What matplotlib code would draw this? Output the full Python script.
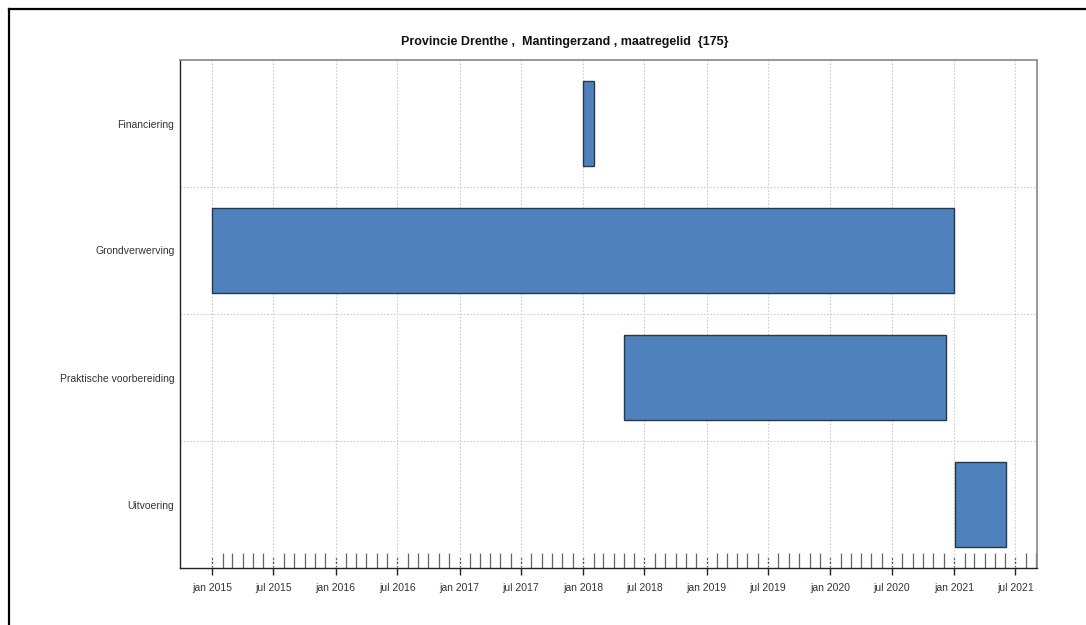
import matplotlib
matplotlib.use("Agg")
import matplotlib.pyplot as plt
import matplotlib.dates as mdates
from matplotlib.lines import Line2D
from matplotlib.ticker import FixedLocator
import datetime as dt
import pandas as pd

# ---- data ----
tasks = ["Financiering", "Grondverwerving", "Praktische voorbereiding", "Uitvoering"]
starts = ["2018-01-01", "2015-01-01", "2018-05-01", "2021-01-05"]
ends = ["2018-02-01", "2020-12-31", "2020-12-07", "2021-06-03"]
title = "Provincie Drenthe ,  Mantingerzand , maatregelid  {175}"
x_min = "2014-09-28"
x_max = "2021-09-03"
tick_start = "2015-01-01"
month_names = {1: 'jan', 7: 'jul'}

plt.rcParams['font.family'] = ['Liberation Sans', 'DejaVu Sans']

fig = plt.figure(figsize=(10.86, 6.25), dpi=100)
ax = fig.add_axes([180/1086, 1-568/625, 857/1086, 508/625])

def d(s):
    return mdates.date2num(dt.datetime.strptime(s, "%Y-%m-%d"))

s_num = [d(s) for s in starts]
e_num = [d(e) for e in ends]
widths = [e - s for s, e in zip(s_num, e_num)]
ypos = list(range(len(tasks)))

ax.barh(ypos, widths, left=s_num, height=0.665, color='#4f81bd',
        edgecolor='#26374a', linewidth=1.0, zorder=3)

ax.set_xlim(d(x_min), d(x_max))
ax.set_ylim(len(tasks) - 0.5, -0.5)

# y axis
ax.set_yticks(ypos)
ax.set_yticklabels(tasks, fontsize=7.5, color='#3a3038')
ax.tick_params(axis='y', length=0, pad=4)
ax.set_yticks([i + 0.5 for i in range(len(tasks) - 1)], minor=True)
ax.tick_params(axis='y', which='minor', length=0)
ax.grid(axis='y', which='minor', color='#cccccc', linestyle=(0, (1.5, 1.5)), linewidth=0.8, zorder=0)

# x axis
month_ticks = pd.date_range(tick_start, x_max, freq='MS')
major_ticks = [m for m in month_ticks if m.month in month_names]
ax.xaxis.set_major_locator(FixedLocator(mdates.date2num(major_ticks)))
ax.xaxis.set_minor_locator(FixedLocator(mdates.date2num(list(month_ticks))))
ax.xaxis.set_major_formatter(plt.FuncFormatter(
    lambda x, p: f"{month_names.get(mdates.num2date(x).month, '')} {mdates.num2date(x).year}"))
ax.tick_params(axis='x', which='major', direction='out', length=5, width=1,
               color='#222222', labelsize=7.5, labelcolor='#3a3038', pad=5.5)
ax.tick_params(axis='x', which='minor', direction='in', length=11, width=0.9,
               color='#666666')
ax.grid(axis='x', which='major', color='#cccccc', linestyle=(0, (1.5, 1.5)), linewidth=0.8, zorder=0)
# darker dashed segment of major gridlines within the tick zone
ax.vlines(mdates.date2num(major_ticks), 0, 11/508, transform=ax.get_xaxis_transform(),
          colors='#333333', linestyles=(0, (2, 1.5)), linewidth=0.9, zorder=1)

for side in ['left', 'bottom']:
    ax.spines[side].set_color('#222222')
    ax.spines[side].set_linewidth(1.0)
for side in ['top', 'right']:
    ax.spines[side].set_color('#888888')
    ax.spines[side].set_linewidth(1.2)

fig.text(565/1086, 1-42.5/625, title, ha='center', va='center',
         fontsize=9, fontweight='bold', color='#111111')

# outer frame lines (top and left)
fig.add_artist(Line2D([8.5/1086, 1.0], [1-8.5/625, 1-8.5/625], color='black',
                      linewidth=1.6, transform=fig.transFigure))
fig.add_artist(Line2D([8.5/1086, 8.5/1086], [0.0, 1-8.5/625], color='black',
                      linewidth=1.6, transform=fig.transFigure))

fig.savefig("out.png", dpi=100)
